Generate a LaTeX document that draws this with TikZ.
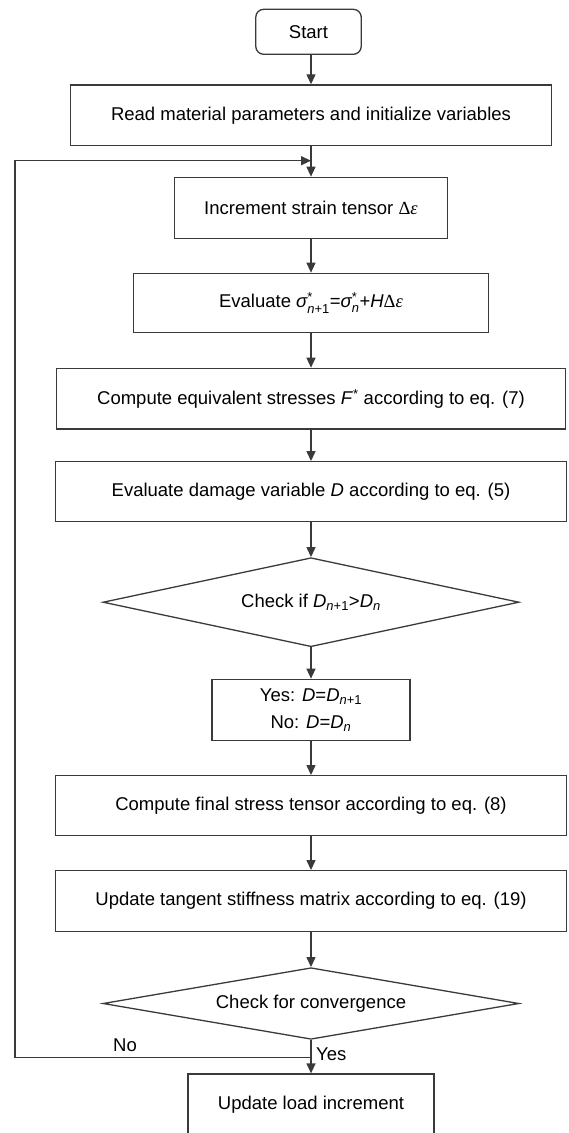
\documentclass[tikz,border=0pt]{standalone}
\usepackage{fontspec}
\usepackage{amsmath}
\setmainfont{Liberation Sans}
\newfontfamily\symfont{Liberation Serif}
\newcommand{\dEps}{{\symfont Δ\textit{ε}}}
\usetikzlibrary{shapes.geometric,arrows.meta}
\definecolor{linec}{HTML}{3A3A3A}
\begin{document}
\begin{tikzpicture}[x=1pt,y=-1pt,
  every node/.style={font=\fontsize{18.5}{27}\selectfont, text=black},
  procbox/.style={draw=linec, line width=1.3pt, rectangle, inner sep=0pt, align=center},
  decbox/.style={draw=linec, line width=1.3pt, diamond, inner sep=0pt},
  flow/.style={draw=linec, line width=1.3pt, -{Triangle[length=10pt,width=9pt]}},
  lbl/.style={inner sep=0pt}]
\useasboundingbox (0,0) rectangle (568,1133);
\clip (0,0) rectangle (568,1133);

\node[procbox, rounded corners=8pt, minimum width=105.5pt, minimum height=45pt] (start) at (308.5,31.8) {Start};
\node[procbox, minimum width=480.8pt, minimum height=60.7pt] (read) at (311,115.3) {Read material parameters and initialize variables};
\node[procbox, minimum width=272.9pt, minimum height=61pt] (inc) at (311,207.8) {Increment strain tensor \dEps};
\node[procbox, minimum width=355.4pt, minimum height=59.4pt] (eval) at (311,303) {Evaluate $\textit{σ}^{\text{*}}_{\textit{n}\text{+1}}$=$\textit{σ}^{\text{*}}_{\textit{n}}$+\textit{H}\dEps};
\node[procbox, minimum width=509pt, minimum height=60.7pt] (equiv) at (311,398.7) {Compute equivalent stresses \textit{F}\textsuperscript{*} according to eq. (7)};
\node[procbox, minimum width=510.6pt, minimum height=60pt] (damage) at (311,491.7) {Evaluate damage variable \textit{D} according to eq. (5)};
\node[decbox, aspect=4.67, minimum width=416pt, minimum height=89pt] (check1) at (311,602.2) {Check if \textit{D}\textsubscript{\textit{n}+1}>\textit{D}\textsubscript{\textit{n}}};
\node[procbox, minimum width=198pt, minimum height=61.4pt] (yesno) at (311,710) {Yes: \textit{D}=\textit{D}\textsubscript{\textit{n}+1}\\No: \textit{D}=\textit{D}\textsubscript{\textit{n}}};
\node[procbox, minimum width=510.6pt, minimum height=59.6pt] (final) at (311,805.5) {Compute final stress tensor according to eq. (8)};
\node[procbox, minimum width=510.6pt, minimum height=61pt] (tangent) at (311,901.2) {Update tangent stiffness matrix according to eq. (19)};
\node[decbox, aspect=5.8, minimum width=416pt, minimum height=71.6pt] (check2) at (311,1003.5) {Check for convergence};
\node[procbox, minimum width=246pt, minimum height=62pt] (load) at (311,1105) {Update load increment};

\coordinate (jn) at (311,160.7);
\coordinate (jb) at (311,1057.7);
\coordinate (lx) at (15,160.7);

\draw[flow] (start.south -| read.north) -- (read.north);
\draw[flow] (read) -- (inc);
\draw[flow] (inc) -- (eval);
\draw[flow] (eval) -- (equiv);
\draw[flow] (equiv) -- (damage);
\draw[flow] (damage) -- (check1);
\draw[flow] (check1) -- (yesno);
\draw[flow] (yesno) -- (final);
\draw[flow] (final) -- (tangent);
\draw[flow] (tangent) -- (check2);
\draw[flow] (check2) -- (load);
\draw[flow] (jb) -- (jb -| lx) -- (lx) -- (jn);

\node[lbl] (nolbl) at (125,1045.7) {No};
\node[lbl, anchor=west] (yeslbl) at (316,1054) {Yes};
\end{tikzpicture}
\end{document}
